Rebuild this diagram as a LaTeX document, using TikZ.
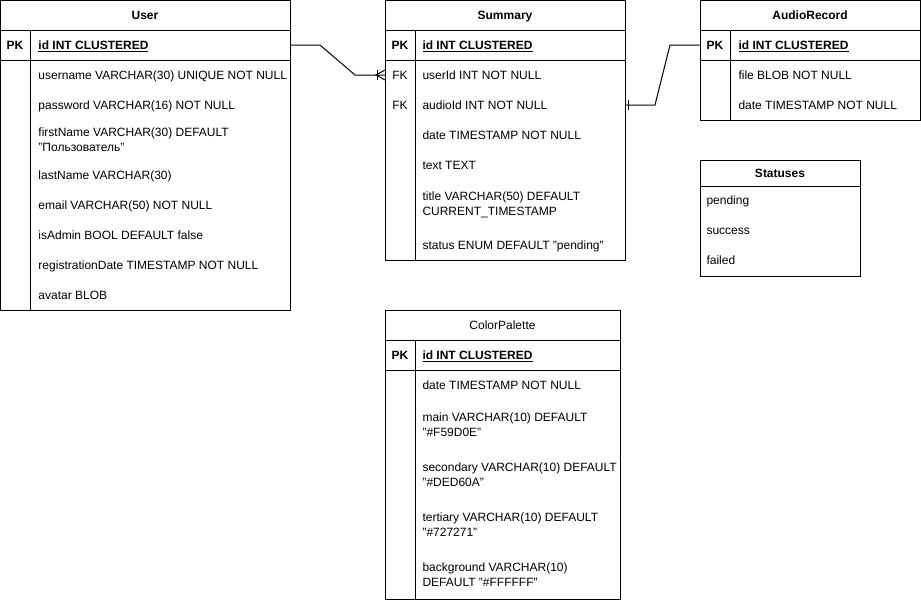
\documentclass[tikz,border=0pt]{standalone}
\usepackage{fontspec}
\setmainfont{Liberation Sans}
\usetikzlibrary{calc}
\newcommand\dq{\char34\relax}
\begin{document}
\begin{tikzpicture}[x=0.75pt,y=-0.75pt,line width=0.75pt,
  tframe/.style={draw=black,line width=0.75pt,anchor=north west,inner sep=0pt,outer sep=0pt},
  rowbox/.style={inner sep=0pt,outer sep=0pt,minimum height=22.5pt},
  ttl/.style={font=\bfseries\fontsize{9}{11.25}\selectfont,inner sep=0pt,anchor=base},
  ttlr/.style={font=\fontsize{9}{11.25}\selectfont,inner sep=0pt,anchor=base},
  keyt/.style={font=\bfseries\fontsize{9}{11.25}\selectfont,inner sep=0pt,anchor=base},
  keyr/.style={font=\fontsize{9}{11.25}\selectfont,inner sep=0pt,anchor=base},
  fld/.style={font=\fontsize{9}{11.25}\selectfont,inner sep=0pt,anchor=west,align=left},
  fld1/.style={font=\fontsize{9}{11.25}\selectfont,inner sep=0pt,anchor=base west},
  pkf/.style={font=\bfseries\fontsize{9}{11.25}\selectfont,inner sep=0pt,anchor=base west},
  conn/.style={draw=black,line width=0.75pt}
]
\useasboundingbox (0,0) rectangle (921,600);

% ---------------- User ----------------
\node[tframe,minimum width=217.5pt,minimum height=232.5pt] (user) at (0.5,0.5) {};
\draw (0.5,30) -- (290,30);
\draw (0.5,60) -- (290,60);
\draw (30,30) -- (30,310);
\node[ttl] (usert) at (145,19.3) {User};
\node[rowbox,minimum width=217.5pt] (userpk) at (145,45) {};
\node[keyt] (userk) at (15,49.3) {PK};
\node[pkf] (userid) at (38,49.3) {\underline{id INT CLUSTERED}};
\node[fld1] (u1) at (38,79.3) {username VARCHAR(30) UNIQUE NOT NULL};
\node[fld1] (u2) at (38,109.3) {password VARCHAR(16) NOT NULL};
\node[fld] (u3) at (38,140) {firstName VARCHAR(30) DEFAULT\\\dq Пользователь\dq};
\node[fld1] (u4) at (38,179.3) {lastName VARCHAR(30)};
\node[fld1] (u5) at (38,209.3) {email VARCHAR(50) NOT NULL};
\node[fld1] (u6) at (38,239.3) {isAdmin BOOL DEFAULT false};
\node[fld1] (u7) at (38,269.3) {registrationDate TIMESTAMP NOT NULL};
\node[fld1] (u8) at (38,299.3) {avatar BLOB};

% ---------------- Summary ----------------
\node[tframe,minimum width=180pt,minimum height=195pt] (sum) at (385,0.5) {};
\draw (385,30) -- (625,30);
\draw (385,60) -- (625,60);
\draw (415,30) -- (415,260);
\node[ttl] (sumt) at (505,19.3) {Summary};
\node[keyt] (sumk) at (400,49.3) {PK};
\node[pkf] (sumid) at (422,49.3) {\underline{id INT CLUSTERED}};
\node[rowbox,minimum width=180pt] (sumuid) at (505,75) {};
\node[rowbox,minimum width=180pt] (sumaid) at (505,105) {};
\node[keyr] (sumfk1) at (400,79.3) {FK};
\node[fld1] (s1) at (422,79.3) {userId INT NOT NULL};
\node[keyr] (sumfk2) at (400,109.3) {FK};
\node[fld1] (s2) at (422,109.3) {audioId INT NOT NULL};
\node[fld1] (s3) at (422,139.3) {date TIMESTAMP NOT NULL};
\node[fld1] (s4) at (422,169.3) {text TEXT};
\node[fld] (s5) at (422,205) {title VARCHAR(50) DEFAULT\\CURRENT\_TIMESTAMP};
\node[fld1] (s6) at (422,249.3) {status ENUM DEFAULT \dq pending\dq};

% ---------------- AudioRecord ----------------
\node[tframe,minimum width=165pt,minimum height=89.625pt] (aud) at (700,0.5) {};
\draw (700,30) -- (920,30);
\draw (700,60) -- (920,60);
\draw (730,30) -- (730,120);
\node[ttl] (audt) at (810,19.3) {AudioRecord};
\node[rowbox,minimum width=165pt] (audpk) at (810,45) {};
\node[keyt] (audk) at (715,49.3) {PK};
\node[pkf] (audid) at (738,49.3) {\underline{id INT CLUSTERED}};
\node[fld1] (a1) at (738,79.3) {file BLOB NOT NULL};
\node[fld1] (a2) at (738,109.3) {date TIMESTAMP NOT NULL};

% ---------------- Statuses ----------------
\node[tframe,minimum width=120pt,minimum height=87pt] (stat) at (700,160) {};
\draw (700,186) -- (860,186);
\node[ttl] (statt) at (780,177.3) {Statuses};
\node[fld1] (st1) at (706,204.3) {pending};
\node[fld1] (st2) at (706,234.3) {success};
\node[fld1] (st3) at (706,264.3) {failed};

% ---------------- ColorPalette ----------------
\node[tframe,minimum width=176.25pt,minimum height=216.75pt] (cp) at (385,310) {};
\draw (385,340) -- (620,340);
\draw (385,370) -- (620,370);
\draw (415,340) -- (415,599);
\node[ttlr] (cpt) at (502.5,329.3) {ColorPalette};
\node[keyt] (cpk) at (400,359.3) {PK};
\node[pkf] (cpid) at (422,359.3) {\underline{id INT CLUSTERED}};
\node[fld1] (c1) at (422,389.3) {date TIMESTAMP NOT NULL};
\node[fld] (c2) at (422,425) {main VARCHAR(10) DEFAULT\\\dq\#F59D0E\dq};
\node[fld] (c3) at (422,475) {secondary VARCHAR(10) DEFAULT\\\dq\#DED60A\dq};
\node[fld] (c4) at (422,525) {tertiary VARCHAR(10) DEFAULT\\\dq\#727271\dq};
\node[fld] (c5) at (422,575) {background VARCHAR(10)\\DEFAULT \dq\#FFFFFF\dq};

% ---------------- Connectors ----------------
\coordinate (b1a) at (320,45);
\coordinate (b1b) at (355,75);
\draw[conn] (userpk.east) -- (b1a) -- (b1b) -- (sumuid.west);
\draw[conn] ($(sumuid.west)+(-8,-5)$) -- ($(sumuid.west)+(-8,5)$);
\draw[conn] ($(sumuid.west)+(0,-5)$) -- ($(sumuid.west)+(-9,0)$) -- ($(sumuid.west)+(0,5)$);

\coordinate (b2a) at (670,45);
\coordinate (b2b) at (655,105);
\draw[conn] (audpk.west) -- (b2a) -- (b2b) -- (sumaid.east);
\draw[conn] ($(sumaid.east)+(3,-5)$) -- ($(sumaid.east)+(3,5)$);
\end{tikzpicture}
\end{document}
